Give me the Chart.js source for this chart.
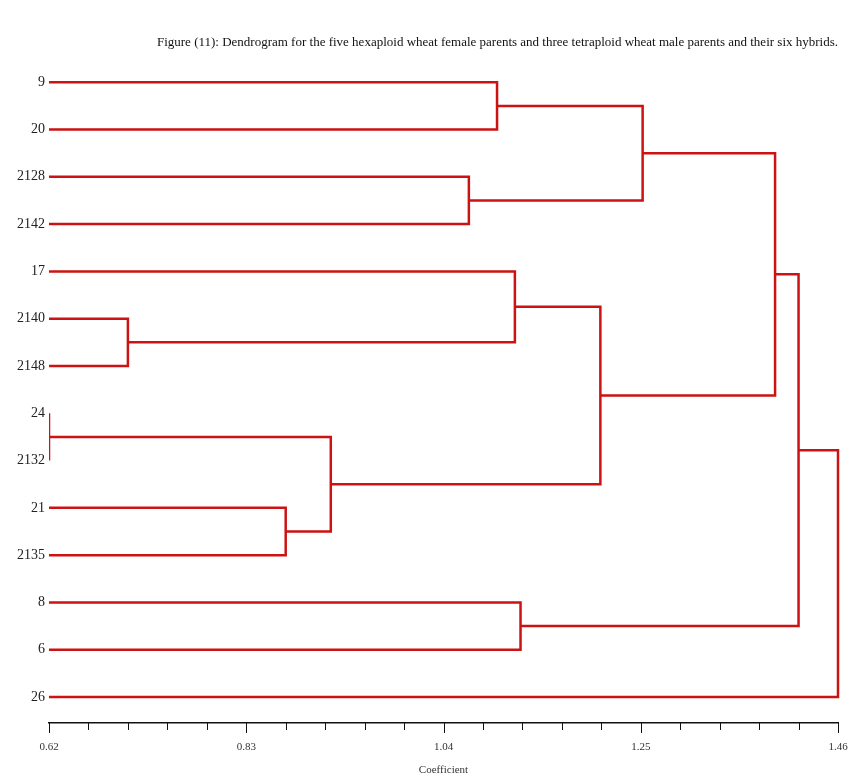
<!DOCTYPE html>
<html><head><meta charset="utf-8">
<script src="https://cdn.jsdelivr.net/npm/chart.js@4/dist/chart.umd.min.js"></script>
<style>html,body{margin:0;padding:0;background:#fff}</style>
</head><body>
<canvas id="c" width="848" height="774"></canvas>
<script>
// Leaves in top-to-bottom order
const leaves = ['9','20','2128','2142','17','2140','2148','24','2132','21','2135','8','6','26'];
// Merges: node ids 0..13 are leaves, merge k creates node 14+k
const mergeLeft   = [0, 2, 14, 5, 4, 7, 9, 19, 18, 16, 11, 23, 25];
const mergeRight  = [1, 3, 15, 6, 17, 8, 10, 20, 21, 22, 12, 24, 13];
const mergeHeight = [1.097, 1.067, 1.252, 0.704, 1.116, 0.620, 0.872, 0.920, 1.207, 1.393, 1.122, 1.418, 1.460];
// Axis
const majorTicks = [0.62, 0.83, 1.04, 1.25, 1.46];
const tickLabels = ['0.62', '0.83', '1.04', '1.25', '1.46'];
const minorPerMajor = 5;

const titleText = 'Figure (11): Dendrogram for the five hexaploid wheat female parents and three tetraploid wheat male parents and their six hybrids.';
const axisTitle = 'Coefficient';

const xMin = majorTicks[0], xMax = majorTicks[majorTicks.length - 1];
const lineColor = '#cc1212';

// node positions
const nodeY = leaves.map((_, i) => i);
const nodeX = leaves.map(() => xMin);
const datasets = [];
mergeHeight.forEach((h, k) => {
  const a = mergeLeft[k], b = mergeRight[k];
  datasets.push({
    data: [
      {x: nodeX[a], y: nodeY[a]},
      {x: h, y: nodeY[a]},
      {x: h, y: nodeY[b]},
      {x: nodeX[b], y: nodeY[b]}
    ],
    showLine: true, borderColor: lineColor, borderWidth: 2.5,
    pointRadius: 0, fill: false, tension: 0, borderJoinStyle: 'miter', borderCapStyle: 'butt',
    clip: {left: 0, right: 4, top: 4, bottom: 4}
  });
  nodeY.push((nodeY[a] + nodeY[b]) / 2);
  nodeX.push(h);
});

const allTicks = [];
for (let i = 0; i < majorTicks.length - 1; i++) {
  for (let j = 0; j < minorPerMajor; j++) {
    allTicks.push({v: majorTicks[i] + j * (majorTicks[i + 1] - majorTicks[i]) / minorPerMajor, major: j === 0, label: j === 0 ? tickLabels[i] : ''});
  }
}
allTicks.push({v: xMax, major: true, label: tickLabels[tickLabels.length - 1]});

const tickPlugin = {
  id: 'xticks',
  afterDraw(chart) {
    const s = chart.scales.x, ctx = chart.ctx;
    ctx.save();
    ctx.strokeStyle = '#111';
    ctx.lineWidth = 1;
    allTicks.forEach(t => {
      const px = Math.round(s.getPixelForValue(t.v)) + 0.5;
      ctx.beginPath();
      ctx.moveTo(px, s.top);
      ctx.lineTo(px, s.top + (t.major ? 10 : 7));
      ctx.stroke();
    });
    ctx.restore();
  }
};

new Chart(document.getElementById('c'), {
  type: 'scatter',
  data: {datasets},
  plugins: [tickPlugin],
  options: {
    responsive: false, animation: false, devicePixelRatio: 1,
    layout: {padding: {left: 0, right: 10, top: 0, bottom: 0}},
    plugins: {
      legend: {display: false}, tooltip: {enabled: false},
      title: {display: true, text: titleText, align: 'end', color: '#111',
        font: {family: 'Liberation Serif', size: 13, weight: 'normal'}, padding: {top: 35, bottom: 8}}
    },
    scales: {
      x: {
        type: 'linear', min: xMin, max: xMax,
        afterBuildTicks: s => { s.ticks = allTicks.map(t => ({value: t.v})); },
        afterFit: s => { s.paddingLeft = 0; s.paddingRight = 0; s.height = 51; },
        grid: {drawOnChartArea: false, drawTicks: true, tickLength: 10, tickColor: 'rgba(0,0,0,0)'},
        border: {display: true, color: '#111', width: 1.5},
        ticks: {autoSkip: false, maxRotation: 0, minRotation: 0, padding: 8, color: '#333',
          font: {family: 'Liberation Serif', size: 11},
          callback: (v, i) => allTicks[i] ? allTicks[i].label : ''},
        title: {display: true, text: axisTitle, color: '#333', font: {family: 'Liberation Serif', size: 11}, padding: {top: 0, bottom: -3}}
      },
      y: {
        type: 'linear', reverse: true, min: -0.5, max: 13.55,
        afterBuildTicks: s => { s.ticks = leaves.map((_, i) => ({value: i})); },
        afterFit: s => { s.width = 49; s.paddingTop = 0; s.paddingBottom = 0; },
        grid: {display: false, drawTicks: false}, border: {display: false},
        ticks: {autoSkip: false, padding: 4, color: '#222', font: {family: 'Liberation Serif', size: 14},
          callback: v => leaves[v]}
      }
    }
  }
});
</script>
</body></html>
